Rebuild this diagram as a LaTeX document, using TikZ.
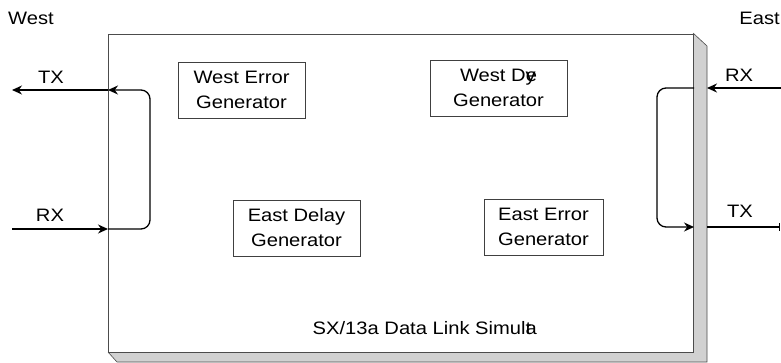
\documentclass[tikz,border=0pt]{standalone}
\usepackage{fontspec}
\setmainfont{Liberation Sans}[FakeStretch=1.12]
\usetikzlibrary{arrows.meta,calc}
\begin{document}
\begin{tikzpicture}[x=1pt,y=1pt,
  gen/.style={draw=black!75, line width=0.8pt, minimum height=56pt, align=center, font=\fontsize{18}{25}\selectfont, inner sep=0pt},
  conn/.style={line width=1.3pt, -{Stealth[length=10pt,width=9pt]}},
  plain/.style={line width=1.3pt},
  lbl/.style={font=\fontsize{18}{20}\selectfont, inner sep=0pt}]
\useasboundingbox (0,0) rectangle (781,-362);
% shadow
\fill[black!18] (693,-33) -- (707,-46) -- (707,-362) -- (117,-362) -- (108,-352) -- (693,-352) -- cycle;
\draw[black!70, line width=0.6pt] (693,-33) -- (707,-46) -- (707,-362) -- (117,-362) -- (108,-352);
% main box
\node[draw=black!70, fill=white, line width=1pt, minimum width=585pt, minimum height=318pt, anchor=north west, inner sep=0pt] (main) at (108,-34) {};
% generator boxes
\node[gen, minimum width=127pt] (weg) at (241.5,-90) {West Error\\Generator};
\node[gen, minimum width=137pt] (wdg) at (498.5,-88) {West D\makebox[0pt][l]{y}e\\Generator};
\node[gen, minimum width=127pt] (edg) at (296.5,-228) {East Delay\\Generator};
\node[gen, minimum width=119pt] (eeg) at (543.5,-227) {East Error\\Generator};
\node[lbl] (title) at (422,-328) {SX/13a Data Link Simul\makebox[0pt][l]{a}t};
% side labels
\node[lbl, anchor=west] (west) at (8,-18) {West};
\node[lbl, anchor=east] (east) at (780,-18) {East};
\node[lbl] (wtxl) at (51,-77) {TX};
\node[lbl] (wrxl) at (50,-215) {RX};
\node[lbl] (erxl) at (739,-75) {RX};
\node[lbl] (etxl) at (740,-211) {TX};
% west coordinates
\coordinate (wtx) at (12,-90);
\coordinate (wrx) at (12,-229);
\coordinate (wtxb) at (main.west |- wtx);
\coordinate (wrxb) at (main.west |- wrx);
\coordinate (wc1) at (150,-229);
\coordinate (wc2) at (150,-90);
% east coordinates
\coordinate (erx) at (781,-88);
\coordinate (etx) at (780,-227);
\coordinate (erxs) at (707,-88);
\coordinate (etxs) at (707,-227);
\coordinate (erxb) at (main.east |- erx);
\coordinate (etxb) at (main.east |- etx);
\coordinate (ec1) at (657,-88);
\coordinate (ec2) at (657,-227);
% west connectors
\draw[conn] (wrx) -- (wrxb);
\draw[conn, rounded corners=9pt] (wrxb) -- (wc1) -- (wc2) -- (wtxb);
\draw[conn] (wtxb) -- (wtx);
% east connectors
\draw[conn] (erx) -- (erxs);
\draw[conn, rounded corners=9pt] (erxb) -- (ec1) -- (ec2) -- (etxb);
\draw[plain, -{Bar[width=8pt]}] (etxs) -- (etx);
\end{tikzpicture}
\end{document}
